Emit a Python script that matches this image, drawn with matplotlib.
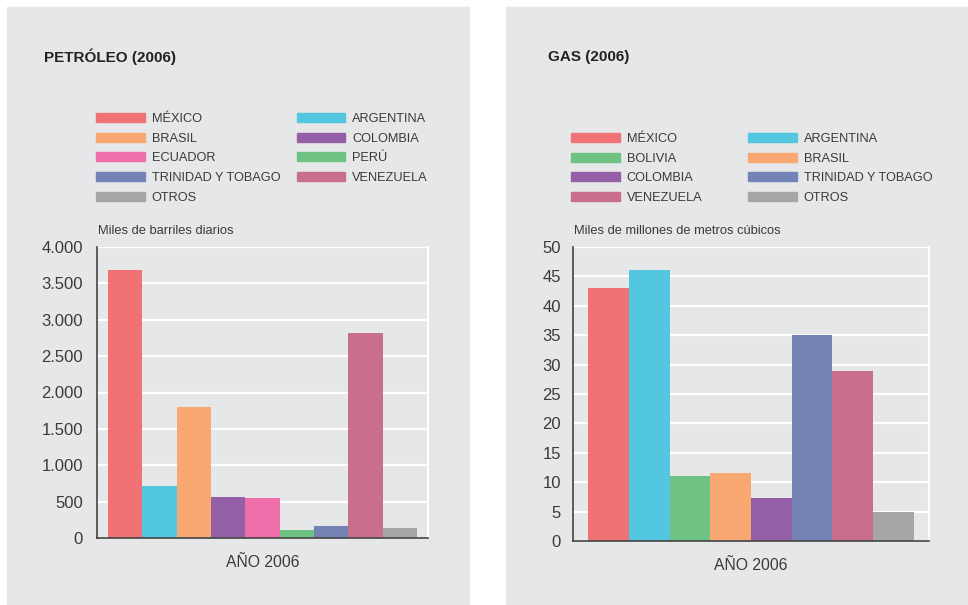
import matplotlib.pyplot as plt
from matplotlib.patches import Rectangle, Patch

plt.rcParams['font.family'] = ['Liberation Sans', 'DejaVu Sans']

# Oil production 2006 (thousand barrels per day)
oil_countries = ["MÉXICO", "ARGENTINA", "BRASIL", "COLOMBIA", "ECUADOR",
                 "PERÚ", "TRINIDAD Y TOBAGO", "VENEZUELA", "OTROS"]
oil_values = [3690, 715, 1800, 565, 550, 110, 165, 2820, 135]
oil_ticks = [0, 500, 1000, 1500, 2000, 2500, 3000, 3500, 4000]
oil_ticklabels = ["0", "500", "1.000", "1.500", "2.000", "2.500", "3.000", "3.500", "4.000"]

# Gas production 2006 (thousand million cubic metres)
gas_countries = ["MÉXICO", "ARGENTINA", "BOLIVIA", "BRASIL", "COLOMBIA",
                 "TRINIDAD Y TOBAGO", "VENEZUELA", "OTROS"]
gas_values = [43.0, 46.1, 11.0, 11.5, 7.3, 35.0, 28.9, 4.9]
gas_ticks = [0, 5, 10, 15, 20, 25, 30, 35, 40, 45, 50]

colors = {
    "MÉXICO": "#f07274", "ARGENTINA": "#54c7e0", "BRASIL": "#f8a870",
    "COLOMBIA": "#955fa8", "ECUADOR": "#ee6ea9", "PERÚ": "#6ec283",
    "BOLIVIA": "#6ec283", "TRINIDAD Y TOBAGO": "#7483b5",
    "VENEZUELA": "#c96f8c", "OTROS": "#a5a6a8",
}

W, H = 968, 605
text_col = "#3a3a3a"
bg = "#e6e7e8"

fig = plt.figure(figsize=(W / 100, H / 100), dpi=100)
fig.patch.set_facecolor("white")


def fx(px):
    return px / W


def fy(py):
    return 1 - py / H


# grey panels
fig.patches.append(Rectangle((fx(7), fy(604)), fx(462), 597 / H,
                             transform=fig.transFigure, color=bg, zorder=-5))
fig.patches.append(Rectangle((fx(506), fy(604)), fx(462), 597 / H,
                             transform=fig.transFigure, color=bg, zorder=-5))


def panel(title, tx, countries, values, ticks, ticklabels, unit, box, margin,
          legend_xy, ypad, colspace):
    x0, x1, top, bottom = box
    ax = fig.add_axes([fx(x0), fy(bottom), fx(x1 - x0), (bottom - top) / H])
    ax.set_facecolor(bg)
    n = len(countries)
    ax.bar(range(n), values, width=1.0, color=[colors[c] for c in countries],
           zorder=3)
    ax.set_xlim(-0.5 - margin, n - 0.5 + margin)
    ax.set_ylim(ticks[0], ticks[-1])
    ax.set_yticks(ticks)
    ax.set_yticklabels(ticklabels)
    ax.grid(axis="y", color="white", linewidth=1.5, zorder=1)
    ax.set_xticks([(n - 1) / 2])
    ax.set_xticklabels(["AÑO 2006"])
    ax.tick_params(axis="both", length=0, colors=text_col)
    ax.tick_params(axis="y", pad=ypad, labelsize=12)
    ax.tick_params(axis="x", pad=12, labelsize=11.3)
    ax.spines["top"].set_visible(False)
    ax.spines["right"].set_color("white")
    ax.spines["right"].set_linewidth(1.5)
    for s in ("left", "bottom"):
        ax.spines[s].set_color("#444444")
        ax.spines[s].set_linewidth(1.2)
        ax.spines[s].set_zorder(4)

    fig.text(fx(tx), fy(57), title, fontsize=11, fontweight="bold",
             color="#222222", va="center", ha="left")
    fig.text(fx(x0 + 1), fy(231), unit, fontsize=9.3, color=text_col,
             va="center", ha="left")

    # legend: row-wise reading order, matplotlib fills columns first
    order = list(range(0, n, 2)) + list(range(1, n, 2))
    handles = [Patch(color=colors[countries[i]], label=countries[i]) for i in order]
    fig.legend(handles=handles, ncol=2, loc="upper left",
               bbox_to_anchor=(fx(legend_xy[0]), fy(legend_xy[1])),
               frameon=False, fontsize=9.2, handlelength=3.8, handleheight=0.7,
               handletextpad=0.55, columnspacing=colspace, labelspacing=0.6,
               borderpad=0, borderaxespad=0, labelcolor=text_col)
    return ax


panel("PETRÓLEO (2006)", 44, oil_countries, oil_values, oil_ticks,
      oil_ticklabels, "Miles de barriles diarios", (97, 428, 247, 538),
      0.32, (96, 113), 10, 1.3)
panel("GAS (2006)", 548, gas_countries, gas_values, gas_ticks,
      [str(t) for t in gas_ticks], "Miles de millones de metros cúbicos",
      (573, 929, 247, 541), 0.37, (571, 133), 8.6, 3.6)

fig.savefig("out.png", dpi=100, facecolor=fig.get_facecolor())
